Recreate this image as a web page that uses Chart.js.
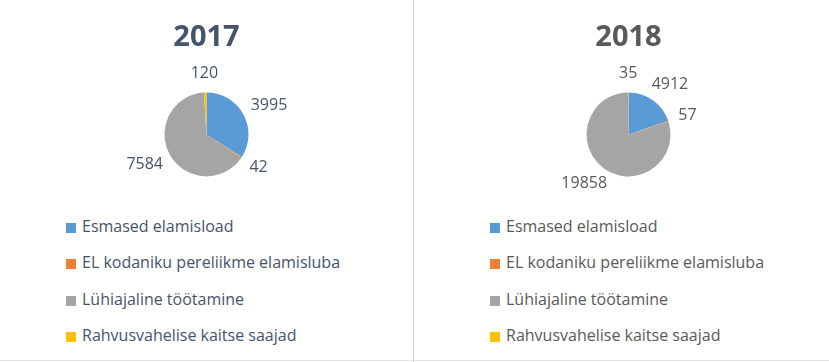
<!DOCTYPE html>
<html>
<head>
<meta charset="utf-8">
<script src="https://cdn.jsdelivr.net/npm/chart.js@4"></script>
<style>
    html, body {
        margin: 0;
        padding: 0;
        background: #ffffff;
    }
    body {
        width: 829px;
        height: 362px;
        position: relative;
        overflow: hidden;
        font-family: "Open Sans", sans-serif;
    }
    .panel {
        position: absolute;
        top: 0;
        width: 413px;
        height: 362px;
    }
    .panel canvas {
        position: absolute;
        left: 0;
        top: 0;
    }
    .divider {
        position: absolute;
        left: 413px;
        top: 0;
        width: 1px;
        height: 362px;
        background: #cfcfcf;
    }
    .bottom-line {
        position: absolute;
        left: 0;
        top: 360px;
        width: 829px;
        height: 1px;
        background: #e6e6e6;
    }
    .legend {
        position: absolute;
        top: 208px;
        margin: 0;
        padding: 0;
        list-style: none;
        font-size: 16px;
    }
    .legend li {
        height: 36.3px;
        line-height: 36.3px;
        white-space: nowrap;
    }
    .legend .box {
        display: inline-block;
        width: 10px;
        height: 10px;
        margin-right: 6px;
        vertical-align: -1px;
    }
</style>
</head>
<body>
<div class="panel" style="left:0px;">
    <canvas id="chart2017" width="413" height="204"></canvas>
    <ul class="legend" id="legend2017" style="left:66px;"></ul>
</div>
<div class="divider"></div>
<div class="panel" style="left:422px;">
    <canvas id="chart2018" width="413" height="204"></canvas>
    <ul class="legend" id="legend2018" style="left:68px;"></ul>
</div>
<div class="bottom-line"></div>

<script>
// Data
const categories = [
    'Esmased elamisload',
    'EL kodaniku pereliikme elamisluba',
    'Lühiajaline töötamine',
    'Rahvusvahelise kaitse saajad'
];
const values2017 = [3995, 42, 7584, 120];
const values2018 = [4912, 57, 19858, 35];

const sliceColors = ['#5B9BD5', '#ED7D31', '#A5A5A5', '#FFC000'];

/**
 * Draw value labels outside each slice, placed from the arc geometry
 */
const outsideLabels = {
    id: 'outsideLabels',
    afterDatasetsDraw(chart, args, opts) {
        const ctx = chart.ctx;
        const meta = chart.getDatasetMeta(0);
        const values = chart.data.datasets[0].data;
        ctx.save();
        ctx.font = opts.font;
        ctx.fillStyle = opts.color;
        ctx.textAlign = 'center';
        ctx.textBaseline = 'middle';
        meta.data.forEach((arc, i) => {
            const p = arc.getProps(['x', 'y', 'startAngle', 'endAngle', 'outerRadius'], true);
            const mid = (p.startAngle + p.endAngle) / 2;
            const cos = Math.cos(mid);
            const sin = Math.sin(mid);
            const text = String(values[i]);
            const w = ctx.measureText(text).width;
            const h = 16;
            const r = p.outerRadius + opts.gap;
            const x = p.x + r * cos + (w / 2) * cos;
            const y = p.y + r * sin + (h / 2) * sin;
            ctx.fillText(text, x, y);
        });
        ctx.restore();
    }
};

/**
 * Build the HTML legend from the chart's own legend items
 */
const htmlLegend = {
    id: 'htmlLegend',
    afterUpdate(chart, args, opts) {
        const list = document.getElementById(opts.containerID);
        if (!list) return;
        list.innerHTML = '';
        list.style.color = opts.color;
        const items = chart.options.plugins.legend.labels.generateLabels(chart);
        items.forEach(item => {
            const li = document.createElement('li');
            const box = document.createElement('span');
            box.className = 'box';
            box.style.background = item.fillStyle;
            li.appendChild(box);
            li.appendChild(document.createTextNode(item.text));
            list.appendChild(li);
        });
    }
};

function buildPie(canvasId, legendId, year, values, textColor) {
    const ctx = document.getElementById(canvasId);
    return new Chart(ctx, {
        type: 'pie',
        data: {
            labels: categories,
            datasets: [{
                data: values,
                backgroundColor: sliceColors,
                borderWidth: 0,
                radius: 42
            }]
        },
        options: {
            responsive: false,
            animation: false,
            layout: { padding: 0 },
            plugins: {
                legend: { display: false },
                tooltip: { enabled: false },
                title: {
                    display: true,
                    text: year,
                    color: textColor,
                    font: {
                        family: '"Open Sans", sans-serif',
                        size: 29,
                        weight: 'bold'
                    },
                    padding: { top: 20, bottom: 10 }
                },
                outsideLabels: {
                    font: '16px "Open Sans", sans-serif',
                    color: textColor,
                    gap: 11
                },
                htmlLegend: {
                    containerID: legendId,
                    color: textColor
                }
            }
        },
        plugins: [outsideLabels, htmlLegend]
    });
}

buildPie('chart2017', 'legend2017', '2017', values2017, '#44546A');
buildPie('chart2018', 'legend2018', '2018', values2018, '#595959');
</script>
</body>
</html>
